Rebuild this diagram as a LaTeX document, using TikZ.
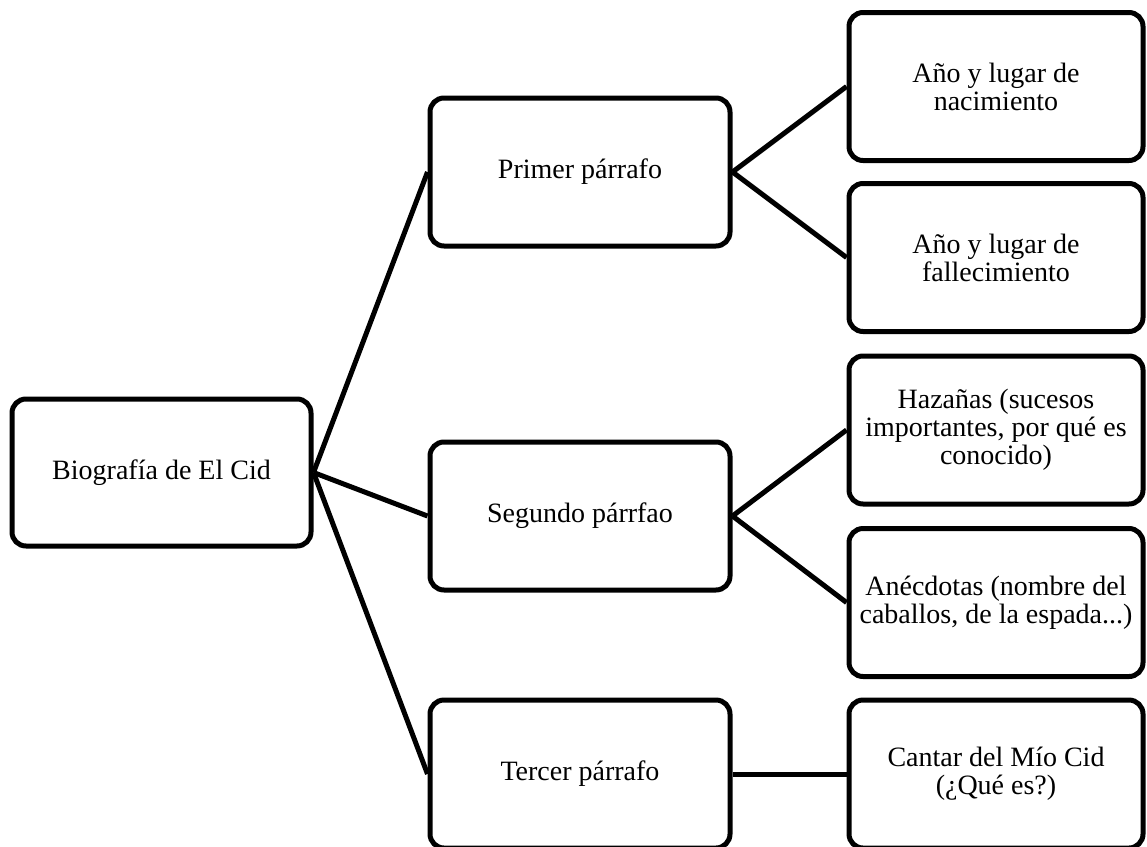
\documentclass[tikz,border=0pt]{standalone}
\usepackage{fontspec}
\setmainfont{Liberation Serif}
\begin{document}
\begin{tikzpicture}[x=1pt,y=-1pt,
  box/.style={draw=black, line width=5pt, rounded corners=14pt, align=center,
    font=\fontsize{28}{28}\selectfont, inner sep=0pt},
  rootbox/.style={box, minimum width=299pt, minimum height=147pt},
  midbox/.style={box, minimum width=300pt, minimum height=148pt},
  leafbox/.style={box, minimum width=294pt, minimum height=148pt},
  link/.style={line width=5pt}]
\useasboundingbox (0,0) rectangle (1147,846);
\node[rootbox] (root) at (161.5,472.5) {Biografía de El Cid};
\node[midbox] (p1) at (580,172) {Primer párrafo};
\node[midbox] (p2) at (580,516) {Segundo párrfao};
\node[midbox] (p3) at (580,774) {Tercer párrafo};
\node[leafbox] (a1) at (996,86.5) {Año y lugar de\\nacimiento};
\node[leafbox] (a2) at (996,257.5) {Año y lugar de\\fallecimiento};
\node[leafbox] (b1) at (996,430) {Hazañas (sucesos\\importantes, por qué es\\conocido)};
\node[leafbox] (b2) at (996,602.5) {Anécdotas (nombre del\\caballos, de la espada...)};
\node[leafbox] (c1) at (996,774) {Cantar del Mío Cid\\(¿Qué es?)};
\draw[link] (root.east) -- (p1.west);
\draw[link] (root.east) -- (p2.west);
\draw[link] (root.east) -- (p3.west);
\draw[link] (p1.east) -- (a1.west);
\draw[link] (p1.east) -- (a2.west);
\draw[link] (p2.east) -- (b1.west);
\draw[link] (p2.east) -- (b2.west);
\draw[link] (p3.east) -- (c1.west);
\end{tikzpicture}
\end{document}
